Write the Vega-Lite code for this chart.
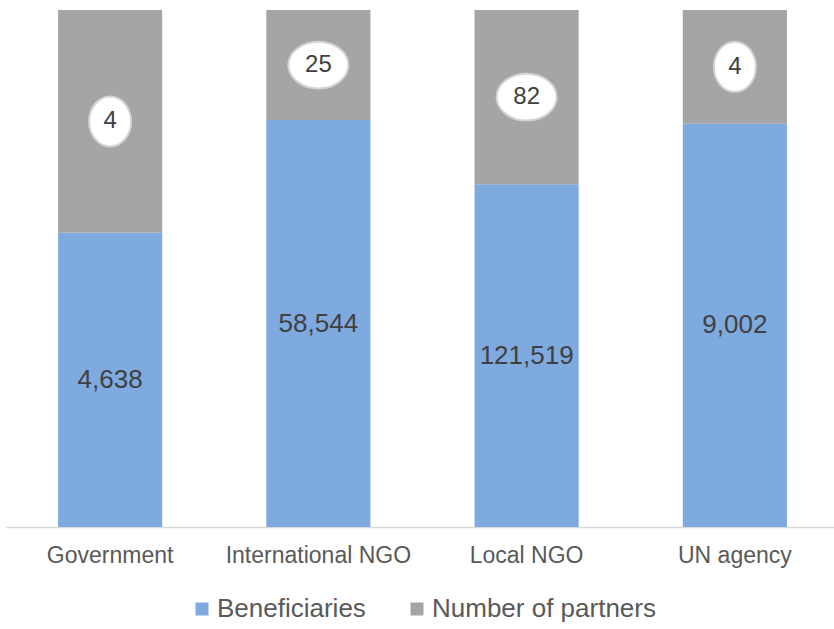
{
  "$schema": "https://vega.github.io/schema/vega-lite/v6.json",
  "autosize": "none",
  "padding": {"left": 6, "top": 10, "right": 0, "bottom": 102},
  "width": 833,
  "height": 517,
  "background": "white",
  "config": {"view": {"stroke": null}},
  "data": {
    "values": [
      {"category": "Government", "series": "Beneficiaries", "share": 0.569, "label": "4,638"},
      {"category": "Government", "series": "Number of partners", "share": 0.431, "label": "4"},
      {"category": "International NGO", "series": "Beneficiaries", "share": 0.787, "label": "58,544"},
      {"category": "International NGO", "series": "Number of partners", "share": 0.213, "label": "25"},
      {"category": "Local NGO", "series": "Beneficiaries", "share": 0.663, "label": "121,519"},
      {"category": "Local NGO", "series": "Number of partners", "share": 0.337, "label": "82"},
      {"category": "UN agency", "series": "Beneficiaries", "share": 0.78, "label": "9,002"},
      {"category": "UN agency", "series": "Number of partners", "share": 0.22, "label": "4"}
    ]
  },
  "transform": [
    {"stack": "share", "groupby": ["category"], "sort": [{"field": "series", "order": "ascending"}], "as": ["y0", "y1"]},
    {"calculate": "(datum.y0 + datum.y1) / 2", "as": "mid"}
  ],
  "encoding": {
    "x": {
      "field": "category", "type": "nominal", "title": null,
      "scale": {"paddingInner": 0.5, "paddingOuter": 0.25},
      "axis": {"labelAngle": 0, "labelFont": "Liberation Sans", "labelFontSize": 23, "labelColor": "#595959", "labelLimit": 0, "ticks": false, "domainColor": "#d9d9d9", "domainWidth": 1.5, "labelPadding": 17}
    }
  },
  "layer": [
    {
      "mark": {"type": "bar"},
      "encoding": {
        "y": {"field": "y0", "type": "quantitative", "scale": {"domain": [0, 1]}, "axis": null},
        "y2": {"field": "y1"},
        "color": {
          "field": "series", "type": "nominal", "title": null,
          "scale": {"domain": ["Beneficiaries", "Number of partners"], "range": ["#7FAADF", "#A5A5A5"]},
          "legend": {"orient": "none", "legendX": 183, "legendY": 586, "direction": "horizontal", "symbolType": "square", "symbolSize": 169, "symbolStrokeWidth": 0, "labelFont": "Liberation Sans", "labelFontSize": 26, "labelColor": "#595959", "labelLimit": 0, "labelOffset": 2, "columnPadding": 38}
        }
      }
    },
    {
      "transform": [{"filter": "datum.series == 'Beneficiaries'"}],
      "mark": {"type": "text", "font": "Liberation Sans", "fontSize": 26, "color": "#404040", "baseline": "middle"},
      "encoding": {
        "y": {"field": "mid", "type": "quantitative", "scale": {"domain": [0, 1]}},
        "text": {"field": "label"}
      }
    },
    {
      "transform": [{"filter": "datum.series == 'Number of partners'"}],
      "mark": {"type": "point", "filled": true, "fill": "white", "stroke": "#d4d4d4", "strokeWidth": 2, "opacity": 1},
      "encoding": {
        "y": {"field": "mid", "type": "quantitative", "scale": {"domain": [0, 1]}},
        "shape": {
          "condition": {"test": "length(datum.label) == 1", "value": "M -0.84 0 A 0.84 1 0 1 0 0.84 0 A 0.84 1 0 1 0 -0.84 0 Z"},
          "value": "M -1 0 A 1 0.78 0 1 0 1 0 A 1 0.78 0 1 0 -1 0 Z"
        },
        "size": {"condition": {"test": "length(datum.label) == 1", "value": 2500}, "value": 3600}
      }
    },
    {
      "transform": [{"filter": "datum.series == 'Number of partners'"}],
      "mark": {"type": "text", "font": "Liberation Sans", "fontSize": 24, "color": "#404040", "baseline": "middle"},
      "encoding": {
        "y": {"field": "mid", "type": "quantitative", "scale": {"domain": [0, 1]}},
        "text": {"field": "label"}
      }
    }
  ]
}
